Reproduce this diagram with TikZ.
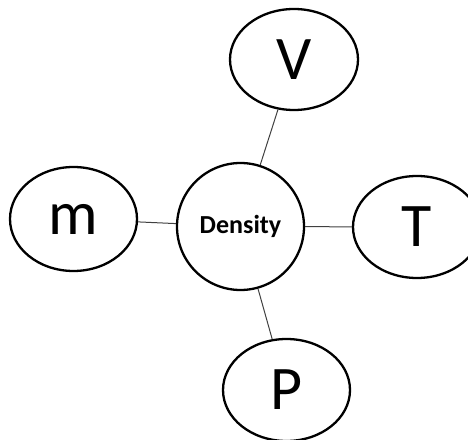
\documentclass[tikz,border=0pt]{standalone}
\usepackage{fontspec}
\setmainfont{Carlito}
\usetikzlibrary{shapes.geometric}
\begin{document}
\begin{tikzpicture}[x=1pt,y=1pt,
  varnode/.style={draw=black, line width=2.3pt, ellipse, inner sep=0pt,
    minimum width=127pt, minimum height=102pt, font=\fontsize{62}{62}\selectfont},
  centernode/.style={draw=black, line width=2.3pt, circle, inner sep=0pt,
    minimum size=127pt, font=\fontsize{26}{26}\selectfont\bfseries},
  link/.style={draw=black!75, line width=1pt}]
\useasboundingbox (0,0) rectangle (468,439);
\clip (0,0) rectangle (468,439);
\node[centernode] (d) at (240.5,212.5) {Density};
\node[varnode, minimum width=128pt, minimum height=101pt] (v) at (294,379.5) {V};
\node[varnode, minimum height=104pt] (m) at (73.5,220) {m};
\node[varnode, minimum width=128pt] (t) at (417,212) {T};
\node[varnode] (p) at (286.5,49) {P};
\draw[link] (d) -- (v);
\draw[link] (d) -- (m);
\draw[link] (d) -- (t);
\draw[link] (d) -- (p);
\end{tikzpicture}
\end{document}
